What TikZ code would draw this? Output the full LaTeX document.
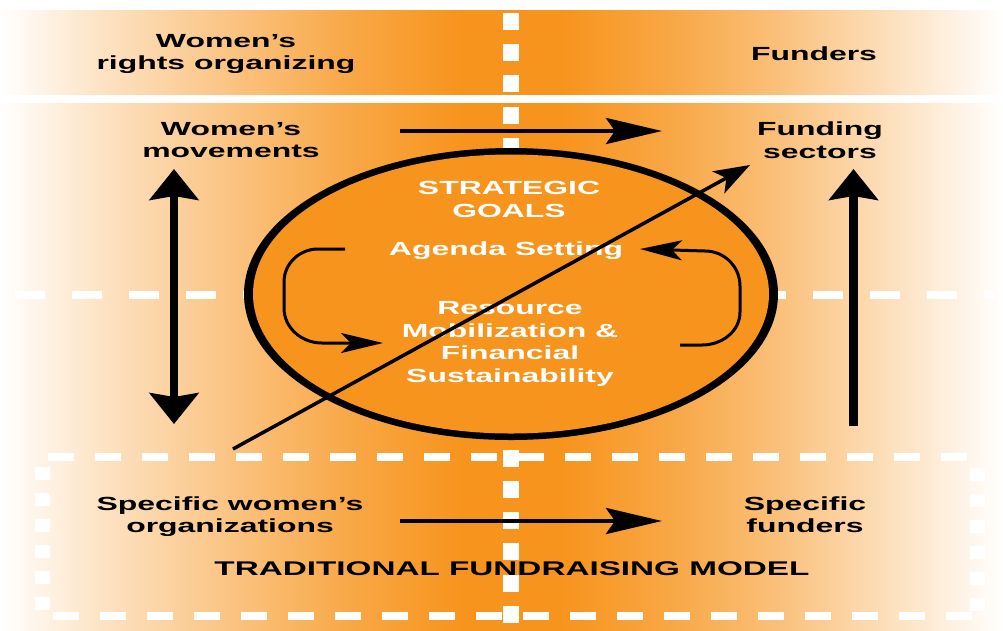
\documentclass[tikz,border=0pt]{standalone}
\usepackage{fontspec}
\newfontfamily\widesans[FakeStretch=1.68]{Liberation Sans}
\usetikzlibrary{arrows.meta,shapes.geometric}
\definecolor{bandorange}{HTML}{F7941D}
% white at both ends, full orange round the middle
\pgfdeclarehorizontalshading{band}{100bp}{color(0bp)=(white); color(25bp)=(white);
  color(30bp)=(bandorange!26!white); color(37.5bp)=(bandorange!60!white);
  color(42.5bp)=(bandorange!82!white); color(48bp)=(bandorange); color(53bp)=(bandorange);
  color(58.5bp)=(bandorange!82!white); color(63.5bp)=(bandorange!60!white);
  color(70bp)=(bandorange!26!white); color(75bp)=(white); color(100bp)=(white)}

\begin{document}
\begin{tikzpicture}[x=1pt,y=-1pt,
  lbl/.style={align=center,inner sep=0pt,font=\widesans\bfseries\fontsize{19}{22.5}\selectfont},
  inlbl/.style={lbl,text=white},
  flow/.style={line width=4.5pt,-{Stealth[length=56pt,width=26pt,inset=9pt]}},
  updown/.style={line width=8pt,{Stealth[length=31pt,width=49pt,inset=4pt]}-{Stealth[length=31pt,width=49pt,inset=4pt]}},
  up/.style={line width=8.5pt,-{Stealth[length=31pt,width=49pt,inset=4pt]}},
  cross/.style={line width=3.5pt,-{Stealth[length=36pt,width=25pt,inset=9pt]}},
  loop/.style={line width=3pt,-{Stealth[length=42pt,width=20pt,inset=10pt]}},
  divider/.style={white,line width=8pt,dash pattern=on 30pt off 27pt},
  boxedge/.style={white,line width=8pt,dash pattern=on 26pt off 21pt},
  boxside/.style={white,line width=15pt,dash pattern=on 13pt off 13pt}]
\useasboundingbox (0,0) rectangle (1003,630);

% bands
\shade[shading=band] (0,10) rectangle (1003,94);
\shade[shading=band] (0,103) rectangle (1003,630);

% dashed grid and the box at the bottom
\draw[white,line width=16pt,dash pattern=on 17pt off 14.2pt] (511,13) -- (511,625);
\draw[divider] (15,295) -- (995,295);
\draw[boxedge] (48,457) -- (975,457);
\draw[boxedge] (53,616) -- (980,616);
\draw[boxside] (42.5,467) -- (42.5,612);
\draw[boxside] (977,468) -- (977,612);

% ring is thicker at the sides than at top and bottom
\node[ellipse,fill=black,inner sep=0pt,minimum width=534pt,minimum height=292pt] (goals) at (511,294) {};
\node[ellipse,fill=bandorange,inner sep=0pt,minimum width=516pt,minimum height=279pt] at (goals.center) {};

\node[lbl] (WRO) at (226,54) {Women’s\\rights organizing};
\node[lbl] (FU) at (814,54) {Funders};
\node[lbl] (WM) at (231,140) {Women’s\\movements};
\node[lbl] (FS) at (820,140) {Funding\\sectors};
\node[inlbl] (SG) at (509,199.5) {STRATEGIC\\GOALS};
\node[inlbl] (AS) at (506,251) {Agenda Setting};
\node[inlbl] (RM) at (510,344) {Resource\\Mobilization \&\\Financial\\Sustainability};
\node[lbl] (SWO) at (230,516.5) {Specific women’s\\organizations};
\node[lbl] (SF) at (805,514.5) {Specific\\funders};
\node[lbl,font=\widesans\bfseries\fontsize{19.8}{22.5}\selectfont] (TFM) at (512,568.5) {TRADITIONAL FUNDRAISING MODEL};

\coordinate (WMr) at (400,131);
\coordinate (FSl) at (662,131);
\coordinate (SWOr) at (400,521);
\coordinate (SFl) at (662,521);
\coordinate (WMb) at (174,169);
\coordinate (SWOt) at (174,424);
\coordinate (FSb) at (853.5,169);
\coordinate (SFt) at (853.5,426);
\coordinate (SWOc) at (233,449);
\coordinate (FSc) at (750,165);

\draw[flow] (WMr) -- (FSl);
\draw[flow] (SWOr) -- (SFl);
\draw[updown] (WMb) -- (SWOt);
\draw[up] (SFt) -- (FSb);
\draw[cross] (SWOc) -- (FSc);

% the two loops between agenda and resources
\draw[loop] (345,249) -- (318,249) to[out=180,in=90] (284,282) -- (284,308)
  to[out=-90,in=180] (322,343) -- (383,343);
\draw[loop] (680,345) -- (702,345) to[out=0,in=-90] (740,312) -- (740,286)
  to[out=90,in=0] (705,251) -- (640,249);
\end{tikzpicture}
\end{document}
